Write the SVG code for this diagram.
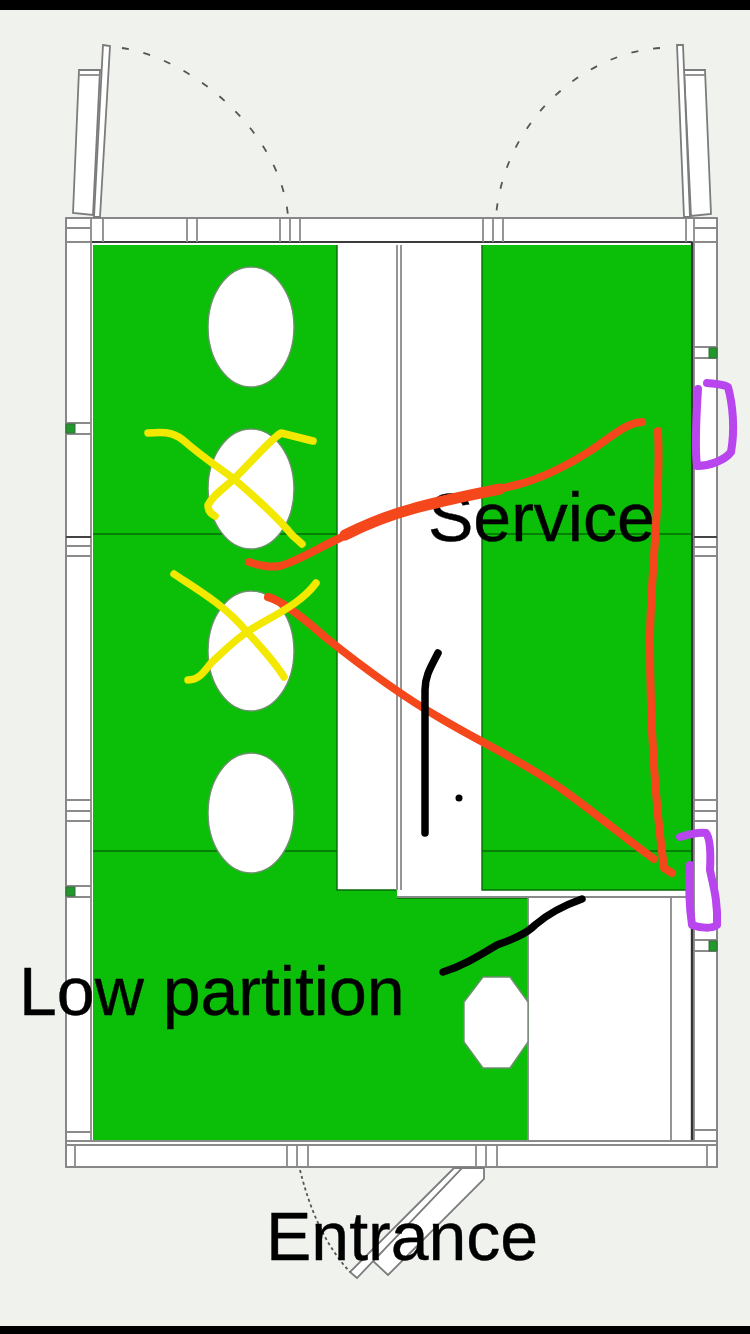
<svg xmlns="http://www.w3.org/2000/svg" width="750" height="1334" viewBox="0 0 750 1334">
<style>
.w{fill:#fff;stroke:#7c7c7c;stroke-width:1.8}
.l{fill:none;stroke:#8a8a8a;stroke-width:1.8}
.d{fill:none;stroke:#555;stroke-width:1.8}
.h{fill:#fff;stroke:#6f8f6f;stroke-width:1.4}
.gl{fill:none;stroke:#076b07;stroke-width:1.4}
.win{fill:#1f9a2a;stroke:#3b6b3b;stroke-width:1}
.r{fill:none;stroke:#f4481c;stroke-width:8;stroke-linecap:round;stroke-linejoin:round}
.rt{stroke-width:11}
.y{fill:none;stroke:#f3e800;stroke-width:7.5;stroke-linecap:round;stroke-linejoin:round}
.p{fill:none;stroke:#b845ee;stroke-width:8;stroke-linecap:round;stroke-linejoin:round}
.k{fill:none;stroke:#000;stroke-width:7.5;stroke-linecap:round;stroke-linejoin:round}
text{font-family:"Liberation Sans",Arial,sans-serif;fill:#000;stroke:#000;stroke-width:.4}
</style>
<rect width="750" height="1334" fill="#f0f3ed"/>
<rect width="750" height="10" fill="#000"/>
<rect y="1326" width="750" height="8" fill="#000"/>
<g id="walls">
<rect class="w" x="66" y="218" width="651" height="949"/>
<rect x="91" y="242" width="603" height="899" fill="#fff"/>
<path class="l" d="M91 218V1141M694 218V1141M66 242H717M66 1141H717M66 1145H717"/>
<path d="M92 242H692" stroke="#222" stroke-width="1.5"/>
<path d="M692 242V1140" stroke="#333" stroke-width="2.4"/>
<path class="l" d="M103 218V242M187 218V242M197 218V242M280 218V242M290 218V242M300 218V242M483 218V242M493 218V242M503 218V242M686 218V242M67 228H90M695 228H716"/>
<path class="l" d="M287 1145V1167M297 1145V1167M308 1145V1167M476 1145V1167M486 1145V1167M497 1145V1167M707 1145V1167M75 1145V1167"/>
<path class="l" d="M66 546H91M66 556H91M694 547H717M694 556H717M66 800H91M66 811H91M66 821H91M694 800H717M694 811H717M694 821H717M66 1132H91M694 1130H717"/>
<path d="M66 537H91M694 537H717" stroke="#444" stroke-width="2"/>
<path class="l" d="M66 423H91M66 434H91M66 886H91M66 897H91M694 347H717M694 358H717M694 940H717M694 951H717"/>
<rect class="win" x="66" y="424" width="9" height="9"/>
<rect class="win" x="66" y="887" width="9" height="9"/>
<rect class="win" x="709" y="348" width="8" height="10"/>
<rect class="win" x="709" y="941" width="8" height="10"/>
</g>
<g id="floor">
<path d="M93 245H337V851H93ZM482 245H691V890H482ZM93 851H397V890H397V898H528V1140H93Z" fill="#0bbf08"/>
<rect x="337" y="245" width="145" height="645" fill="#fff"/>
<path class="gl" d="M337 245V890H396M482 245V890H691M397 898H528"/>
<path class="l" d="M397 245V890M401 245V890"/>
<path class="l" d="M397 897H692M671 898V1140M528 898V1140"/>
<path class="gl" d="M93 534H337M482 534H691M93 851H337M482 851H691"/>
</g>
<g id="tables">
<ellipse class="h" cx="251" cy="327" rx="43" ry="60"/>
<ellipse class="h" cx="251" cy="489" rx="43" ry="60"/>
<ellipse class="h" cx="251" cy="651" rx="43" ry="60"/>
<ellipse class="h" cx="251" cy="813" rx="43" ry="60"/>
<path class="h" d="M483 977H510L528 1002V1042L510 1068H483L464 1042V1002Z"/>
</g>
<g id="doors">
<path class="w" d="M79 70H100L93 215L73 213Z"/>
<path class="w" d="M103 45L110 46L100 217H94Z"/>
<path class="l" d="M79 75H100"/>
<path class="d" stroke-dasharray="7 15" d="M122 48C190 58 280 130 288 216"/>
<path class="w" d="M684 70H705L711 214L691 216Z"/>
<path class="w" d="M677 45H683L690 217H684Z"/>
<path class="l" d="M684 75H705"/>
<path class="d" stroke-dasharray="7 15" d="M660 48C590 52 505 115 496 216"/>
<path class="w" d="M462 1168H484V1179L388 1275L373 1261Z"/>
<path class="w" d="M454 1168H462L357 1278L350 1272Z"/>
<path class="d" stroke-dasharray="3 3" d="M300 1170C310 1210 325 1245 350 1272"/>
</g>
<g id="labels">
<text x="428" y="541" font-size="68">Service</text>
<text x="19" y="1015" font-size="68">Low partition</text>
<text x="266" y="1260" font-size="68">Entrance</text>
</g>
<g id="markup">
<path class="r" d="M249 562C258 565 268 568 280 566C300 560 318 548 340 538C360 528 385 517 410 510C440 501 480 494 520 484C545 477 565 467 590 451C610 438 625 423 642 422"/>
<path class="r rt" d="M345 535C365 525 390 515 412 509C440 501 470 495 500 489"/>
<path class="r" d="M658 431C661 500 650 580 650 640C650 720 655 800 664 868L672 873"/>
<path class="r" d="M268 597C280 600 300 615 325 637C360 665 400 695 440 718C480 742 530 765 570 795C600 817 630 842 654 859"/>
<path class="y" d="M148 433C160 432 172 431 183 440C200 455 215 465 234 479C255 497 280 520 292 535L302 544"/>
<path class="y" d="M313 441L281 433C270 440 255 458 234 479C222 490 213 495 208 505C208 510 211 514 215 516"/>
<path class="y" d="M174 574C195 588 225 605 247 632C262 648 275 662 284 677"/>
<path class="y" d="M188 680C200 680 205 670 212 662C225 650 235 640 247 632C270 617 300 605 316 583"/>
<path class="p" d="M707 383C715 384 722 384 728 387C733 405 735 430 731 452C725 460 710 466 697 466C695 450 696 420 698 389"/>
<path class="p" d="M680 837C690 834 700 832 706 833C710 838 711 850 710 870C713 885 718 900 717 925C712 929 700 928 692 925C689 905 689 880 690 865"/>
<path class="k" d="M438 653C432 665 425 675 425 690C425 740 425 790 425 833"/>
<circle cx="459" cy="798" r="3.5" fill="#000"/>
<path class="k" d="M443 972C465 965 480 955 497 945C510 940 525 935 535 925C550 912 565 905 582 899"/>
</g>
</svg>
